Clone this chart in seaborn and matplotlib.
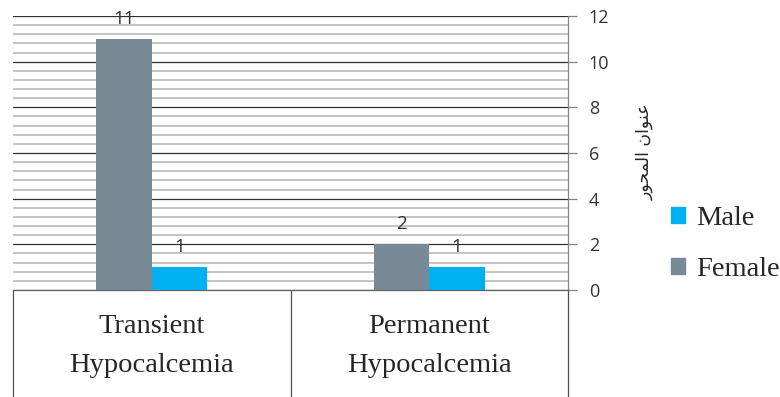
import matplotlib
matplotlib.use("Agg")
import matplotlib.pyplot as plt
import matplotlib.patches as mpatches
from matplotlib.ticker import MultipleLocator
import seaborn as sns
import pandas as pd

# Data
categories = ["Transient\nHypocalcemia", "Permanent\nHypocalcemia"]
female_counts = [11, 2]
male_counts = [1, 1]
series_names = ["Female", "Male"]
y_ticks = [0, 2, 4, 6, 8, 10, 12]

# Arabic axis title, written in presentation forms (visual order) so it shapes correctly
axis_title_logical = "\uFECB\uFEE8\uFEEE\uFE8D\uFEE5 \uFE8D\uFEDF\uFEE4\uFEA4\uFEEE\uFEAD"
axis_title = axis_title_logical[::-1]

colors = {"Female": "#778A96", "Male": "#00B0F0"}

df = pd.DataFrame({
    "category": categories * 2,
    "sex": ["Female"] * len(categories) + ["Male"] * len(categories),
    "count": female_counts + male_counts,
})

sns.set_style("white")
plt.rcParams["font.family"] = ["Open Sans", "DejaVu Sans"]

fig = plt.figure(figsize=(7.8, 3.97), dpi=100)
ax = fig.add_axes([13 / 780, 107 / 397, 555 / 780, 274 / 397])

sns.barplot(data=df, x="category", y="count", hue="sex",
            hue_order=series_names, palette=colors, width=0.4,
            order=categories, legend=False, ax=ax, zorder=3,
            saturation=1, edgecolor="none")

for cont in ax.containers:
    ax.bar_label(cont, fmt="%d", padding=8, fontsize=13.5, color="#333333",
                 family=["Open Sans", "DejaVu Sans"])

ax.set_ylim(0, 12)
ax.set_xlim(-0.5, 1.5)

# Gridlines: dark majors every 2, light minors every 0.4
ax.yaxis.set_major_locator(MultipleLocator(2))
ax.yaxis.set_minor_locator(MultipleLocator(0.4))
ax.grid(False)
ax.yaxis.grid(True, which="minor", color="#C4C4C4", linewidth=1.4, zorder=0)
ax.yaxis.grid(True, which="major", color="#303030", linewidth=0.9, zorder=1)
ax.set_axisbelow(True)

# Value axis on the right
ax.yaxis.tick_right()
ax.set_yticks(y_ticks)
ax.tick_params(axis="y", which="major", right=True, left=False, length=6.5,
               width=0.9, color="#868686", pad=8.5, labelsize=13,
               labelcolor="#333333")
ax.tick_params(axis="y", which="minor", right=False, left=False)

for side in ["top", "left"]:
    ax.spines[side].set_visible(False)
ax.spines["right"].set_color("#868686")
ax.spines["right"].set_linewidth(0.9)
ax.spines["bottom"].set_color("#606060")
ax.spines["bottom"].set_linewidth(0.9)

# Category axis drawn as a table: long minor ticks mark the cell borders
ax.set_xticks([-0.5, 0.5, 1.5], minor=True)
ax.tick_params(axis="x", which="minor", bottom=True, length=90, width=0.9,
               color="#505050", direction="out")
ax.tick_params(axis="x", which="major", bottom=False, pad=14)
ax.set_xticklabels(categories, family="Liberation Serif", fontsize=20.5,
                   color="#262626", linespacing=1.7)
ax.set_xlabel("")

ax.set_ylabel(axis_title, family=["DejaVu Sans"], fontsize=12.5,
              color="#262626", rotation=90, ha="center", va="center")
ax.yaxis.set_label_position("right")
ax.yaxis.set_label_coords((636 - 13) / 555, (290 - 152) / 274)

# Legend (Male listed first)
handles = [mpatches.Patch(color=colors["Male"], label="Male"),
           mpatches.Patch(color=colors["Female"], label="Female")]
fig.legend(handles=handles, loc="center left",
           bbox_to_anchor=(671 / 780, (397 - 244) / 397), frameon=False,
           prop={"family": "Liberation Serif", "size": 20.5},
           handlelength=0.5, handleheight=0.5, handletextpad=0.4,
           labelspacing=0.9, borderaxespad=0, borderpad=0)

fig.savefig("out.png", dpi=100)
